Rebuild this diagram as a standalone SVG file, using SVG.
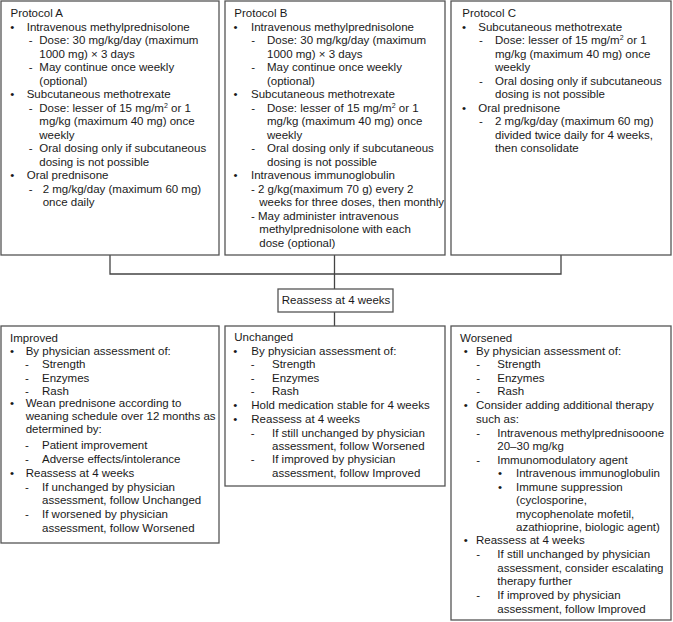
<svg xmlns="http://www.w3.org/2000/svg" width="673" height="622" viewBox="0 0 673 622">
<style>
.box{fill:#fff;stroke:#555;stroke-width:1.3}
.ln{fill:none;stroke:#444;stroke-width:1.3}
text{font-family:"Liberation Sans",Arial,Helvetica,sans-serif;font-size:11.5px;fill:#1a1a1a}
.sup{font-size:7px}
</style>
<rect width="673" height="622" fill="#fff"/>
<g id="connectors">
<path class="ln" d="M110,255V274H561V255M334.5,255V289M334.5,312V326"/>
</g>
<g id="protocolA">
<rect class="box" x="1" y="1" width="218" height="254"/>
<text x="10.5" y="17.3">Protocol A</text>
<text x="10.3" y="30.8">•</text><text x="26.7" y="30.8">Intravenous methylprednisolone</text>
<text x="28.7" y="44.3">-</text><text x="39.3" y="44.3">Dose: 30 mg/kg/day (maximum</text>
<text x="39.3" y="57.8">1000 mg) × 3 days</text>
<text x="28.7" y="71.3">-</text><text x="39.3" y="71.3">May continue once weekly</text>
<text x="39.3" y="84.8">(optional)</text>
<text x="10.3" y="98.3">•</text><text x="26.7" y="98.3">Subcutaneous methotrexate</text>
<text x="28.7" y="111.8">-</text><text x="39.3" y="111.8">Dose: lesser of 15 mg/m<tspan class="sup" dy="-4">2</tspan><tspan dy="4"> or 1</tspan></text>
<text x="39.3" y="125.3">mg/kg (maximum 40 mg) once</text>
<text x="39.3" y="138.8">weekly</text>
<text x="28.7" y="152.3">-</text><text x="39.3" y="152.3">Oral dosing only if subcutaneous</text>
<text x="39.3" y="165.8">dosing is not possible</text>
<text x="10.3" y="179.3">•</text><text x="26.7" y="179.3">Oral prednisone</text>
<text x="28.7" y="192.8">-</text><text x="42.7" y="192.8">2 mg/kg/day (maximum 60 mg)</text>
<text x="42.7" y="206.3">once daily</text>
</g>
<g id="protocolB">
<rect class="box" x="225" y="1" width="220" height="254"/>
<text x="234.3" y="17.3">Protocol B</text>
<text x="233.5" y="30.8">•</text><text x="251" y="30.8">Intravenous methylprednisolone</text>
<text x="251.2" y="44.3">-</text><text x="267" y="44.3">Dose: 30 mg/kg/day (maximum</text>
<text x="267" y="57.8">1000 mg) × 3 days</text>
<text x="251.2" y="71.3">-</text><text x="267" y="71.3">May continue once weekly</text>
<text x="267" y="84.8">(optional)</text>
<text x="233.5" y="98.3">•</text><text x="251" y="98.3">Subcutaneous methotrexate</text>
<text x="251.2" y="111.8">-</text><text x="267" y="111.8">Dose: lesser of 15 mg/m<tspan class="sup" dy="-4">2</tspan><tspan dy="4"> or 1</tspan></text>
<text x="267" y="125.3">mg/kg (maximum 40 mg) once</text>
<text x="267" y="138.8">weekly</text>
<text x="251.2" y="152.3">-</text><text x="267" y="152.3">Oral dosing only if subcutaneous</text>
<text x="267" y="165.8">dosing is not possible</text>
<text x="233.5" y="179.3">•</text><text x="251" y="179.3">Intravenous immunoglobulin</text>
<text x="251" y="192.8">- 2 g/kg(maximum 70 g) every 2</text>
<text x="259.3" y="206.3">weeks for three doses, then monthly</text>
<text x="251" y="219.8">- May administer intravenous</text>
<text x="259.3" y="233.3">methylprednisolone with each</text>
<text x="259.3" y="246.8">dose (optional)</text>
</g>
<g id="protocolC">
<rect class="box" x="451" y="1" width="220" height="254"/>
<text x="462.3" y="17.3">Protocol C</text>
<text x="462" y="30.8">•</text><text x="478.3" y="30.8">Subcutaneous methotrexate</text>
<text x="479" y="44.3">-</text><text x="495" y="44.3">Dose: lesser of 15 mg/m<tspan class="sup" dy="-4">2</tspan><tspan dy="4"> or 1</tspan></text>
<text x="495" y="57.8">mg/kg (maximum 40 mg) once</text>
<text x="495" y="71.3">weekly</text>
<text x="479" y="84.8">-</text><text x="495" y="84.8">Oral dosing only if subcutaneous</text>
<text x="495" y="98.3">dosing is not possible</text>
<text x="462" y="111.8">•</text><text x="478.3" y="111.8">Oral prednisone</text>
<text x="479" y="125.3">-</text><text x="495" y="125.3">2 mg/kg/day (maximum 60 mg)</text>
<text x="495" y="138.8">divided twice daily for 4 weeks,</text>
<text x="495" y="152.3">then consolidate</text>
</g>
<g id="reassess">
<rect class="box" x="278" y="289" width="115" height="23"/>
<text x="281.7" y="304">Reassess at 4 weeks</text>
</g>
<g id="improved">
<rect class="box" x="1" y="326" width="218" height="217"/>
<text x="10" y="341.7">Improved</text>
<text x="10" y="355">•</text><text x="25.7" y="355">By physician assessment of:</text>
<text x="25" y="368.3">-</text><text x="42" y="368.3">Strength</text>
<text x="25" y="381.7">-</text><text x="42" y="381.7">Enzymes</text>
<text x="25" y="394.5">-</text><text x="42" y="394.5">Rash</text>
<text x="10" y="406.7">•</text><text x="25.7" y="406.7">Wean prednisone according to</text>
<text x="25.7" y="420">weaning schedule over 12 months as</text>
<text x="25.7" y="433.3">determined by:</text>
<text x="25" y="448.7">-</text><text x="42" y="448.7">Patient improvement</text>
<text x="25" y="462.8">-</text><text x="42" y="462.8">Adverse effects/intolerance</text>
<text x="10" y="476.7">•</text><text x="25.7" y="476.7">Reassess at 4 weeks</text>
<text x="25" y="490.7">-</text><text x="42" y="490.7">If unchanged by physician</text>
<text x="42" y="504">assessment, follow Unchanged</text>
<text x="25" y="518.3">-</text><text x="42" y="518.3">If worsened by physician</text>
<text x="42" y="531.7">assessment, follow Worsened</text>
</g>
<g id="unchanged">
<rect class="box" x="225" y="326" width="220" height="160"/>
<text x="234.3" y="341.3">Unchanged</text>
<text x="233.3" y="355">•</text><text x="251.3" y="355">By physician assessment of:</text>
<text x="250.7" y="368.3">-</text><text x="272" y="368.3">Strength</text>
<text x="250.7" y="381.7">-</text><text x="272" y="381.7">Enzymes</text>
<text x="250.7" y="394.7">-</text><text x="272" y="394.7">Rash</text>
<text x="233.3" y="409.3">•</text><text x="251.3" y="409.3">Hold medication stable for 4 weeks</text>
<text x="233.3" y="422.7">•</text><text x="251.3" y="422.7">Reassess at 4 weeks</text>
<text x="250.7" y="436.5">-</text><text x="272" y="436.5">If still unchanged by physician</text>
<text x="272" y="449.8">assessment, follow Worsened</text>
<text x="250.7" y="463.3">-</text><text x="272" y="463.3">If improved by physician</text>
<text x="272" y="476.7">assessment, follow Improved</text>
</g>
<g id="worsened">
<rect class="box" x="451" y="326" width="220" height="294"/>
<text x="460" y="341.7">Worsened</text>
<text x="463.7" y="355">•</text><text x="476" y="355">By physician assessment of:</text>
<text x="476.3" y="368.3">-</text><text x="497.3" y="368.3">Strength</text>
<text x="476.3" y="381.7">-</text><text x="497.3" y="381.7">Enzymes</text>
<text x="476.3" y="395">-</text><text x="497.3" y="395">Rash</text>
<text x="463.7" y="409.3">•</text><text x="476" y="409.3">Consider adding additional therapy</text>
<text x="476" y="422.7">such as:</text>
<text x="476.3" y="436.5">-</text><text x="497.3" y="436.5">Intravenous methylprednisooone</text>
<text x="497.3" y="450">20–30 mg/kg</text>
<text x="476.3" y="463.7">-</text><text x="497.3" y="463.7">Immunomodulatory agent</text>
<text x="498" y="477">•</text><text x="516" y="477">Intravenous immunoglobulin</text>
<text x="498" y="490.7">•</text><text x="516" y="490.7">Immune suppression</text>
<text x="516" y="504">(cyclosporine,</text>
<text x="516" y="517.5">mycophenolate mofetil,</text>
<text x="516" y="530.8">azathioprine, biologic agent)</text>
<text x="463.7" y="544.3">•</text><text x="476" y="544.3">Reassess at 4 weeks</text>
<text x="476.3" y="558.2">-</text><text x="497.3" y="558.2">If still unchanged by physician</text>
<text x="497.3" y="571.7">assessment, consider escalating</text>
<text x="497.3" y="585">therapy further</text>
<text x="476.3" y="599.2">-</text><text x="497.3" y="599.2">If improved by physician</text>
<text x="497.3" y="612.6">assessment, follow Improved</text>
</g>
</svg>
